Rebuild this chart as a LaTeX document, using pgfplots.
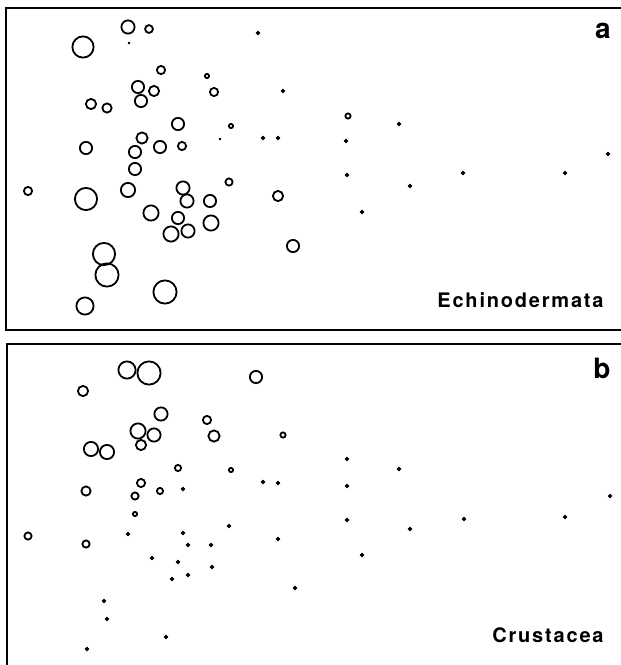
\documentclass[border=0pt]{standalone}
\usepackage{fontspec}
\usepackage{pgfplots}
\usepackage{pgfplotstable}
\pgfplotsset{compat=1.18}
\newfontfamily\lab[LetterSpace=9]{TeX Gyre Heros}
\newfontfamily\panel{TeX Gyre Heros}

% x, y in picture pixels, r = outer radius of the ring in pixels
\pgfplotstableread{
x y r
128 27 7.5
149 29 4.8
83 47 11.5
161 70 5
207 76 3
138 87 7
154 91 6
214 92 5
91 104 6
107 108 5.5
141 101 7
178 124 7
231 126 3
142 138 6.5
135 152 7
160 147 7
182 146 5
86 148 7
135 169 7
28 191 5
86 199 12
128 190 8
183 188 7.5
187 201 7.5
229 182 4.5
210 201 7
278 196 6
151 213 8.5
178 218 7
171 234 8.5
188 231 7.5
211 223 8.5
293 246 7
104 254 12
107 275 12.5
165 292 12.5
85 306 9.5
348 116 3.5
}\echrings
\pgfplotstableread{
x y
258 33
283 91
263 138
278 138
399 124
346 141
347 175
463 173
565 173
608 154
410 186
362 212
}\echdots
\pgfplotstableread{
x y
129 43
220 139
}\echtiny
\pgfplotstableread{
x y r
127 370 9.5
149 373 12.5
83 391 6
256 377 7
161 414 7.5
207 420 5
214 436 6.5
283 435 3.5
138 431 8.5
154 435 7.5
141 445 6
91 449 8
107 452 8
178 468 4
231 470 3
141 483 5
86 491 5.5
135 496 4.5
160 491 4
135 514 3
28 536 4.5
86 544 4.5
}\crurings
\pgfplotstableread{
x y
263 482
278 483
183 489
128 534
183 533
229 526
188 545
211 545
278 539
152 558
178 562
212 567
172 579
188 575
295 588
104 601
107 619
166 637
87 649
347 459
399 469
347 486
347 520
410 529
464 519
565 517
610 496
362 555
}\crudots

\pgfplotsset{
  panelstyle/.style={
    scale only axis, y dir=reverse,
    xtick=\empty, ytick=\empty,
    axis line style={line width=1pt},
    clip=false,
  },
  % meta 0..20 px maps to 0..1000, so transformed/100 = radius in pt (0.5pt per px)
  rings/.style={
    scatter, only marks, mark=o, draw=black, line width=0.9pt,
    point meta=explicit, point meta min=0, point meta max=20,
    scatter/@pre marker code/.code={%
      \pgfmathsetmacro\rr{\pgfplotspointmetatransformed/100-0.45}%
      \scope[mark size=\rr pt]},
    scatter/@post marker code/.code={\endscope},
  },
  dots/.style={only marks, mark=*, mark size=0.85pt, black},
}

\begin{document}
\begin{tikzpicture}
\path[use as bounding box] (0,0) rectangle (310.5pt,-332.5pt);
\clip (0,0) rectangle (310.5pt,-332.5pt);

\begin{axis}[panelstyle,
  at={(3pt,-4pt)}, anchor=north west,
  width=312pt, height=161pt,
  xmin=6, xmax=630, ymin=8, ymax=330]
\addplot[rings] table[x=x, y=y, meta=r] {\echrings};
\addplot[dots] table[x=x, y=y] {\echdots};
\addplot[only marks, mark=*, mark size=0.45pt, black] table[x=x, y=y] {\echtiny};
\node[anchor=base east, inner sep=0pt] at (axis cs:611,38)
  {\fontsize{14}{16}\selectfont\panel\bfseries a};
\node[anchor=base east, inner sep=0pt] at (axis cs:604,307)
  {\fontsize{10}{12}\selectfont\lab\bfseries Echinodermata};
\end{axis}

\begin{axis}[panelstyle,
  at={(3.5pt,-172pt)}, anchor=north west,
  width=311.5pt, height=168pt,
  xmin=7, xmax=630, ymin=344, ymax=680]
\addplot[rings] table[x=x, y=y, meta=r] {\crurings};
\addplot[dots] table[x=x, y=y] {\crudots};
\node[anchor=base east, inner sep=0pt] at (axis cs:611,378)
  {\fontsize{14}{16}\selectfont\panel\bfseries b};
\node[anchor=base east, inner sep=0pt] at (axis cs:604,642)
  {\fontsize{10}{12}\selectfont\lab\bfseries Crustacea};
\end{axis}
\end{tikzpicture}
\end{document}
